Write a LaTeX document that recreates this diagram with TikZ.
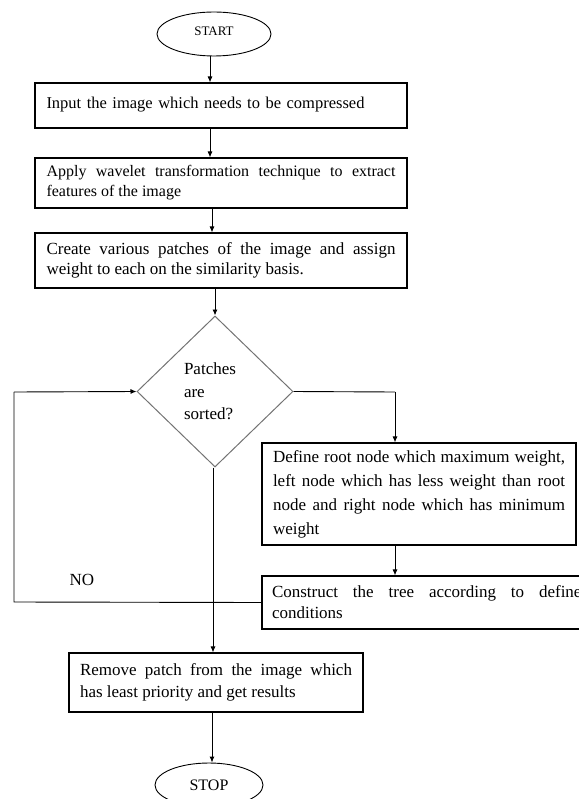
\documentclass[tikz,border=0pt]{standalone}
\usepackage{fontspec}
\setmainfont{Liberation Serif}
\usetikzlibrary{shapes.geometric,arrows.meta}
\hyphenpenalty=10000
\exhyphenpenalty=10000
\begin{document}
\begin{tikzpicture}[x=1pt,y=-1pt,
  every node/.style={font=\fontsize{17}{20}\selectfont},
  procbox/.style={draw=black,line width=1.1pt,rectangle,align=justify,inner ysep=0pt},
  termnode/.style={draw=black,line width=0.9pt,ellipse,inner sep=0pt},
  decnode/.style={draw=black!55,line width=1pt,diamond,inner sep=0pt,align=left},
  conn/.style={draw=black,line width=0.9pt},
  arr/.style={conn,-{Latex[length=6pt,width=5pt]}}]
\useasboundingbox (0,0) rectangle (578,799);

\node[termnode,minimum width=114,minimum height=44,font=\fontsize{13}{15}\selectfont] (start) at (214,34) {\raisebox{5pt}{START}};

\node[procbox,text width=349,inner xsep=11.5,minimum height=45,align=left,font=\fontsize{16.5}{20}\selectfont] (box1) at (221,105.5)
  {\raisebox{5pt}{Input the image which needs to be compressed}};

\node[procbox,text width=349,inner xsep=11.5,minimum height=50,font=\fontsize{16}{20}\selectfont] (box2) at (221,183)
  {Apply wavelet transformation technique to extract\linebreak features of the image};

\node[procbox,text width=349,inner xsep=11.5,minimum height=55] (box3) at (221,260.5)
  {Create various patches of the image and assign\linebreak weight to each on the similarity basis.};

\node[decnode,minimum width=156,minimum height=151,font=\fontsize{17}{22.5}\selectfont] (dec) at (215,391.5)
  {\hspace*{-10pt}Patches\\\hspace*{-10pt}are\\\hspace*{-10pt}sorted?};

\node[procbox,text width=292,inner xsep=11,minimum height=102,font=\fontsize{17}{24}\selectfont] (define) at (419,494)
  {Define root node which maximum weight,\linebreak left node which has less weight than root\linebreak node and right node which has minimum\linebreak weight};

\node[procbox,text width=318,inner xsep=10,minimum height=53,font=\fontsize{17}{21}\selectfont] (construct) at (431,602.5)
  {Construct the tree according to defined\linebreak conditions};

\node[procbox,text width=272,inner xsep=11,minimum height=59,font=\fontsize{17}{22}\selectfont] (remove) at (216,682.5)
  {Remove patch from the image which\linebreak has least priority and get results};

\node[termnode,minimum width=108,minimum height=44,font=\fontsize{16}{18}\selectfont] (stop) at (209,785) {STOP};

\node (nolabel) at (82,580) {NO};

\coordinate (c1) at (395,392);
\coordinate (c2) at (14,602);
\coordinate (c3) at (14,392);

\draw[arr] ([xshift=-4pt]start.south) -- ([xshift=-4pt]start.south |- box1.north);
\draw[arr] ([xshift=-11pt]box1.south) -- ([xshift=-11pt]box1.south |- box2.north);
\draw[arr] ([xshift=-9pt]box2.south) -- ([xshift=-9pt]box2.south |- box3.north);
\draw[arr] (dec.north |- box3.south) -- (dec.north);
\draw[conn] (dec.east) -- (c1);
\draw[arr] (c1) -- (c1 |- define.north);
\draw[arr] (c1 |- define.south) -- (c1 |- construct.north);
\draw[conn] (construct.west) -- (c2) -- (c3);
\draw[arr] (c3) -- (dec.west);
\draw[arr] ([xshift=-2pt]dec.south) -- ([xshift=-2pt]dec.south |- remove.north);
\draw[arr] ([xshift=-4pt]remove.south) -- ([xshift=-4pt]remove.south |- stop.north);
\end{tikzpicture}
\end{document}
